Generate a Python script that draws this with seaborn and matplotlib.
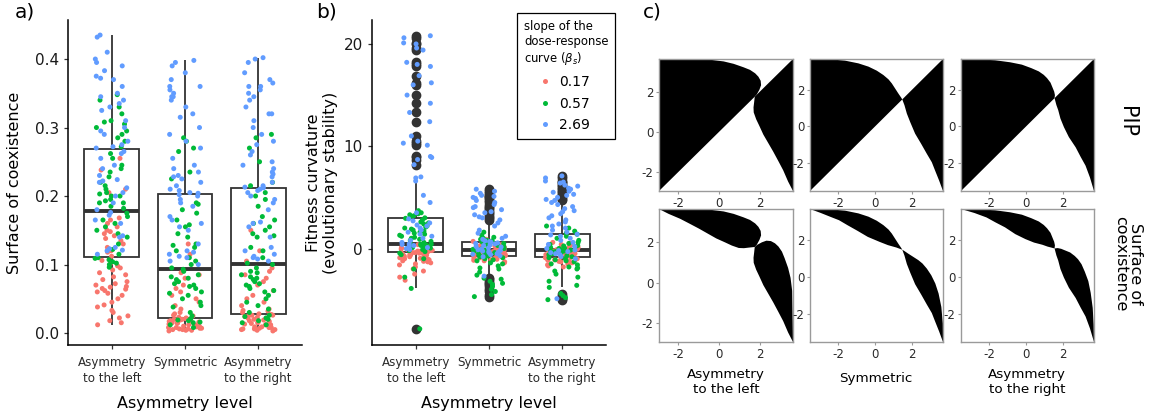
import numpy as np
import pandas as pd
import matplotlib
matplotlib.use("Agg")
import matplotlib.pyplot as plt
from matplotlib.lines import Line2D
import seaborn as sns

plt.rcParams["font.family"] = ["DejaVu Sans"]
plt.rcParams["axes.unicode_minus"] = False

# ---------------------------------------------------------------- categories
levels = ["Asymmetry\nto the left", "Symmetric", "Asymmetry\nto the right"]
slopes = ["0.17", "0.57", "2.69"]
palette = {"0.17": "#F8766D", "0.57": "#00BA38", "2.69": "#619CFF"}

# ------------------------------------------ a) surface of coexistence values
coex_left_017 = [0.012, 0.015, 0.018, 0.022, 0.025, 0.03, 0.033, 0.038, 0.041, 0.045,
                 0.05, 0.055, 0.058, 0.06, 0.062, 0.064, 0.065, 0.067, 0.068, 0.07,
                 0.072, 0.075, 0.078, 0.082, 0.085, 0.088, 0.092, 0.095, 0.098, 0.102,
                 0.106, 0.112, 0.118, 0.12, 0.125, 0.13, 0.135, 0.138, 0.142, 0.145,
                 0.148, 0.15, 0.155, 0.16, 0.165, 0.168, 0.205, 0.21, 0.238, 0.255]
coex_left_057 = [0.096, 0.1, 0.102, 0.104, 0.107, 0.109, 0.11, 0.115, 0.122, 0.13,
                 0.14, 0.145, 0.15, 0.155, 0.16, 0.165, 0.17, 0.175, 0.182, 0.185,
                 0.19, 0.19, 0.193, 0.195, 0.2, 0.2, 0.203, 0.205, 0.21, 0.215,
                 0.22, 0.228, 0.235, 0.24, 0.245, 0.255, 0.262, 0.272, 0.28, 0.285,
                 0.29, 0.295, 0.3, 0.305, 0.308, 0.31, 0.32, 0.33, 0.34, 0.348]
coex_left_269 = [0.115, 0.12, 0.121, 0.123, 0.125, 0.14, 0.142, 0.16, 0.165, 0.172,
                 0.176, 0.18, 0.19, 0.2, 0.205, 0.212, 0.22, 0.222, 0.224, 0.23,
                 0.24, 0.245, 0.255, 0.262, 0.265, 0.27, 0.272, 0.275, 0.28, 0.29,
                 0.295, 0.3, 0.31, 0.325, 0.33, 0.335, 0.34, 0.345, 0.35, 0.36,
                 0.37, 0.372, 0.375, 0.383, 0.39, 0.395, 0.4, 0.41, 0.432, 0.435]
coex_sym_017 = [0.003, 0.004, 0.004, 0.005, 0.005, 0.006, 0.006, 0.007, 0.007, 0.008,
                0.008, 0.009, 0.01, 0.01, 0.011, 0.011, 0.012, 0.012, 0.013, 0.014,
                0.015, 0.015, 0.016, 0.017, 0.018, 0.018, 0.019, 0.02, 0.02, 0.021,
                0.022, 0.023, 0.025, 0.026, 0.028, 0.03, 0.035, 0.04, 0.045, 0.05,
                0.055, 0.06, 0.065, 0.07, 0.075, 0.08, 0.085, 0.088, 0.115, 0.13]
coex_sym_057 = [0.008, 0.012, 0.015, 0.016, 0.018, 0.019, 0.021, 0.025, 0.03, 0.038,
                0.04, 0.045, 0.05, 0.055, 0.058, 0.06, 0.065, 0.068, 0.07, 0.072,
                0.075, 0.078, 0.08, 0.082, 0.085, 0.09, 0.093, 0.095, 0.1, 0.105,
                0.11, 0.12, 0.125, 0.128, 0.13, 0.14, 0.145, 0.155, 0.158, 0.165,
                0.175, 0.18, 0.188, 0.19, 0.225, 0.235, 0.265, 0.27, 0.28, 0.285]
coex_sym_269 = [0.1, 0.105, 0.11, 0.112, 0.115, 0.118, 0.12, 0.13, 0.15, 0.155,
                0.16, 0.165, 0.17, 0.185, 0.19, 0.195, 0.2, 0.202, 0.204, 0.205,
                0.208, 0.21, 0.215, 0.22, 0.225, 0.228, 0.23, 0.235, 0.24, 0.245,
                0.255, 0.27, 0.28, 0.29, 0.3, 0.315, 0.32, 0.33, 0.34, 0.345,
                0.345, 0.35, 0.355, 0.36, 0.36, 0.37, 0.38, 0.39, 0.395, 0.398]
coex_right_017 = [0.003, 0.004, 0.005, 0.005, 0.006, 0.006, 0.007, 0.008, 0.008, 0.009,
                  0.009, 0.01, 0.011, 0.012, 0.012, 0.013, 0.014, 0.015, 0.016, 0.017,
                  0.018, 0.019, 0.02, 0.021, 0.022, 0.023, 0.024, 0.025, 0.026, 0.026,
                  0.027, 0.028, 0.03, 0.032, 0.033, 0.035, 0.04, 0.045, 0.05, 0.055,
                  0.062, 0.07, 0.075, 0.08, 0.085, 0.09, 0.095, 0.105, 0.12, 0.15]
coex_right_057 = [0.012, 0.015, 0.018, 0.02, 0.022, 0.024, 0.026, 0.03, 0.035, 0.04,
                  0.045, 0.05, 0.055, 0.06, 0.062, 0.065, 0.068, 0.07, 0.072, 0.075,
                  0.078, 0.08, 0.082, 0.085, 0.088, 0.09, 0.095, 0.1, 0.102, 0.11,
                  0.12, 0.125, 0.14, 0.142, 0.145, 0.15, 0.155, 0.16, 0.165, 0.17,
                  0.185, 0.195, 0.2, 0.205, 0.215, 0.22, 0.25, 0.27, 0.285, 0.29]
coex_right_269 = [0.105, 0.108, 0.11, 0.112, 0.115, 0.12, 0.125, 0.14, 0.155, 0.16,
                  0.162, 0.18, 0.19, 0.195, 0.2, 0.205, 0.208, 0.21, 0.212, 0.213,
                  0.215, 0.22, 0.228, 0.232, 0.235, 0.24, 0.245, 0.25, 0.26, 0.265,
                  0.275, 0.28, 0.29, 0.3, 0.31, 0.32, 0.32, 0.33, 0.34, 0.345,
                  0.35, 0.355, 0.36, 0.36, 0.365, 0.37, 0.38, 0.395, 0.4, 0.402]

# ------------------------------------------------ b) fitness curvature values
curv_left_017 = [-3.1, -2.8, -2.5, -2.2, -2.0, -1.8, -1.6, -1.5, -1.4, -1.3,
                 -1.25, -1.2, -1.1, -1.05, -1.0, -0.95, -0.9, -0.85, -0.8, -0.75,
                 -0.7, -0.65, -0.62, -0.6, -0.55, -0.5, -0.5, -0.45, -0.42, -0.4,
                 -0.39, -0.35, -0.3, -0.28, -0.25, -0.2, -0.18, -0.15, -0.1, -0.08,
                 -0.05, 0.0, 0.02, 0.05, 0.1, 0.12, 0.18, 0.22, 0.3, 0.38]
curv_left_057 = [-7.85, -3.9, -2.8, -2.0, -1.0, -0.6, -0.45, -0.3, -0.2, -0.1,
                 0.0, 0.05, 0.1, 0.15, 0.2, 0.25, 0.3, 0.35, 0.41, 0.43,
                 0.5, 0.6, 0.7, 0.8, 0.9, 1.0, 1.1, 1.2, 1.3, 1.4,
                 1.5, 1.6, 1.7, 1.8, 1.9, 2.0, 2.1, 2.2, 2.4, 2.5,
                 2.6, 2.8, 2.95, 3.0, 3.1, 3.2, 3.3, 3.4, 3.5, 3.7]
curv_left_269 = [-0.1, 0.0, 0.1, 0.2, 0.3, 0.4, 0.45, 0.6, 0.8, 1.0,
                 1.2, 1.4, 1.6, 1.8, 2.0, 2.2, 2.3, 2.5, 2.7, 2.9,
                 3.5, 4.5, 5.2, 6.6, 6.9, 7.0, 8.2, 8.7, 8.9, 9.0,
                 10.1, 10.3, 10.5, 11.0, 12.4, 13.3, 14.2, 15.0, 16.0, 16.2,
                 16.9, 17.8, 18.0, 18.2, 19.4, 19.6, 20.0, 20.1, 20.6, 20.8]
curv_sym_017 = [-1.4, -1.3, -1.2, -1.15, -1.1, -1.05, -1.0, -0.95, -0.9, -0.85,
                -0.8, -0.75, -0.7, -0.65, -0.6, -0.55, -0.5, -0.48, -0.45, -0.4,
                -0.38, -0.35, -0.3, -0.28, -0.25, -0.2, -0.18, -0.15, -0.12, -0.11,
                -0.09, -0.05, -0.02, 0.0, 0.02, 0.05, 0.08, 0.1, 0.12, 0.15,
                0.18, 0.2, 0.25, 0.3, 0.35, 0.4, 0.5, 0.6, 0.7, 0.9]
curv_sym_057 = [-4.7, -4.5, -4.2, -4.0, -3.7, -3.5, -3.4, -3.2, -3.0, -2.9,
                -2.6, -2.3, -2.0, -1.9, -1.7, -1.5, -1.4, -1.2, -1.1, -1.0,
                -0.9, -0.8, -0.75, -0.72, -0.6, -0.5, -0.45, -0.4, -0.3, -0.25,
                -0.2, -0.15, -0.1, -0.08, -0.05, 0.0, 0.1, 0.2, 0.3, 0.4,
                0.5, 0.62, 0.7, 0.75, 0.8, 0.9, 1.0, 1.1, 1.3, 1.6]
curv_sym_269 = [-2.7, -0.8, -0.7, -0.6, -0.55, -0.5, -0.4, -0.35, -0.3, -0.25,
                -0.2, -0.12, -0.06, 0.05, 0.15, 0.2, 0.3, 0.35, 0.45, 0.5,
                0.55, 0.63, 0.68, 0.75, 0.9, 1.0, 1.2, 1.5, 1.8, 2.2,
                2.5, 2.8, 3.0, 3.1, 3.3, 3.5, 3.6, 3.8, 4.0, 4.1,
                4.3, 4.5, 4.7, 4.9, 5.0, 5.1, 5.2, 5.4, 5.6, 5.8]
curv_right_017 = [-1.8, -1.7, -1.6, -1.5, -1.4, -1.3, -1.25, -1.2, -1.15, -1.1,
                  -1.05, -1.0, -0.95, -0.9, -0.85, -0.82, -0.8, -0.75, -0.7, -0.65,
                  -0.62, -0.6, -0.55, -0.5, -0.48, -0.45, -0.42, -0.4, -0.38, -0.35,
                  -0.32, -0.3, -0.28, -0.25, -0.22, -0.2, -0.18, -0.16, -0.12, -0.1,
                  -0.05, 0.0, 0.05, 0.1, 0.15, 0.2, 0.3, 0.4, 0.5, 0.6]
curv_right_057 = [-5.0, -4.8, -4.6, -4.4, -3.8, -3.6, -3.2, -2.8, -2.5, -2.2,
                  -2.0, -1.9, -1.8, -1.6, -1.5, -1.3, -1.2, -1.1, -1.0, -0.9,
                  -0.8, -0.7, -0.6, -0.5, -0.45, -0.4, -0.35, -0.3, -0.25, -0.2,
                  -0.15, -0.1, 0.0, 0.05, 0.1, 0.15, 0.2, 0.25, 0.3, 0.4,
                  0.5, 0.6, 0.8, 1.0, 1.2, 1.4, 1.5, 1.7, 2.0, 2.2]
curv_right_269 = [-4.9, -1.0, -0.78, -0.6, -0.5, -0.4, -0.3, -0.2, -0.14, 0.0,
                  0.2, 0.4, 0.6, 0.8, 1.0, 1.2, 1.33, 1.4, 1.6, 1.8,
                  2.0, 2.2, 2.4, 2.6, 2.8, 3.0, 3.2, 3.4, 3.6, 3.7,
                  3.9, 4.1, 4.3, 4.5, 4.7, 4.8, 5.0, 5.2, 5.3, 5.5,
                  5.6, 5.8, 5.9, 6.1, 6.2, 6.4, 6.5, 6.6, 6.9, 7.1]

# ------------------------- c) invasion boundaries (resident x, mutant y)
pip_left_lim = (-2.92, 3.63)
pip_left_upper_x = [-2.92, -0.40, 0.24, 0.73, 1.21, 1.53, 1.78, 1.94, 2.05, 2.07, 1.99, 1.86, 1.76]
pip_left_upper_y = [3.63, 3.59, 3.51, 3.39, 3.22, 3.09, 2.92, 2.75, 2.55, 2.33, 2.11, 1.87, 1.76]
pip_left_lower_x = [1.76, 1.73, 1.70, 1.71, 1.83, 1.99, 2.18, 2.42, 2.66, 2.91, 3.15, 3.39, 3.63]
pip_left_lower_y = [1.76, 1.48, 1.23, 0.98, 0.64, 0.30, -0.12, -0.54, -0.96, -1.43, -1.89, -2.45, -2.92]

pip_sym_lim = (-3.55, 3.70)
pip_sym_upper_x = [-3.55, -2.55, -1.64, -0.91, -0.36, 0.09, 0.45, 0.73, 0.91, 1.09, 1.27, 1.42, 1.48]
pip_sym_upper_y = [3.70, 3.69, 3.61, 3.46, 3.28, 3.06, 2.82, 2.58, 2.36, 2.08, 1.80, 1.58, 1.48]
pip_sym_lower_x = [1.48, 1.60, 1.73, 1.91, 2.18, 2.51, 2.82, 3.09, 3.27, 3.49, 3.70]
pip_sym_lower_y = [1.48, 1.16, 0.70, 0.24, -0.40, -0.96, -1.51, -1.97, -2.43, -2.98, -3.55]

pip_right_lim = (-3.55, 3.70)
pip_right_upper_x = [-3.55, -2.60, -1.69, -0.87, -0.23, 0.28, 0.69, 0.96, 1.14, 1.33, 1.42, 1.53, 1.57, 1.55]
pip_right_upper_y = [3.70, 3.68, 3.63, 3.52, 3.39, 3.20, 3.02, 2.83, 2.65, 2.40, 2.18, 1.91, 1.72, 1.55]
pip_right_lower_x = [1.55, 1.65, 1.75, 1.87, 2.06, 2.33, 2.70, 2.97, 3.24, 3.48, 3.70]
pip_right_lower_y = [1.55, 1.17, 0.89, 0.43, -0.04, -0.59, -1.15, -1.67, -2.16, -2.81, -3.55]


def long_table(blocks):
    rows = []
    for level, slope, values in blocks:
        rows += [(level, slope, v) for v in values]
    return pd.DataFrame(rows, columns=["level", "slope", "value"])


coex = long_table([
    (levels[0], "0.17", coex_left_017), (levels[0], "0.57", coex_left_057), (levels[0], "2.69", coex_left_269),
    (levels[1], "0.17", coex_sym_017), (levels[1], "0.57", coex_sym_057), (levels[1], "2.69", coex_sym_269),
    (levels[2], "0.17", coex_right_017), (levels[2], "0.57", coex_right_057), (levels[2], "2.69", coex_right_269),
])
curv = long_table([
    (levels[0], "0.17", curv_left_017), (levels[0], "0.57", curv_left_057), (levels[0], "2.69", curv_left_269),
    (levels[1], "0.17", curv_sym_017), (levels[1], "0.57", curv_sym_057), (levels[1], "2.69", curv_sym_269),
    (levels[2], "0.17", curv_right_017), (levels[2], "0.57", curv_right_057), (levels[2], "2.69", curv_right_269),
])

W, H = 1149, 419
fig = plt.figure(figsize=(W / 100, H / 100), dpi=100)
fig.patch.set_facecolor("white")


def px_axes(x0, y0, x1, y1):
    return fig.add_axes([x0 / W, 1 - y1 / H, (x1 - x0) / W, (y1 - y0) / H])


DARK = "#333333"


def box_and_jitter(ax, df, seed):
    sns.boxplot(data=df, x="level", y="value", order=levels, color="white",
                linecolor=DARK, linewidth=1.3, width=0.75, showcaps=False,
                saturation=1, fliersize=6,
                flierprops=dict(marker="o", markerfacecolor=DARK, markeredgecolor=DARK),
                medianprops=dict(linewidth=2.8, color=DARK), ax=ax)
    np.random.seed(seed)
    sns.stripplot(data=df, x="level", y="value", hue="slope", order=levels,
                  hue_order=slopes, palette=palette, jitter=0.23, size=3.6,
                  linewidth=0, legend=False, zorder=3, ax=ax)
    ax.set_xlim(-0.6, 2.6)
    for side in ["top", "right"]:
        ax.spines[side].set_visible(False)
    for side in ["left", "bottom"]:
        ax.spines[side].set_linewidth(1.1)
        ax.spines[side].set_color("black")
    ax.tick_params(axis="both", length=3, width=0.9, color=DARK)
    ax.tick_params(axis="y", labelsize=11, labelcolor="#1a1a1a", pad=3.5)
    ax.tick_params(axis="x", labelsize=8.6, labelcolor="#2a2a2a", pad=5)
    ax.set_xticks(range(3))
    ax.set_xticklabels(levels)
    for t in ax.get_xticklabels():
        t.set_linespacing(1.3)
    ax.set_xlabel("Asymmetry level", fontsize=11.5, labelpad=8)
    ax.set_facecolor("white")


# ---------------------------------------------------------------- panel a
ax_a = px_axes(68, 20, 302, 345)
box_and_jitter(ax_a, coex, 7)
ax_a.set_ylim(-0.0175, 0.457)
ax_a.set_yticks([0.0, 0.1, 0.2, 0.3, 0.4])
ax_a.set_yticklabels(["0.0", "0.1", "0.2", "0.3", "0.4"])
ax_a.set_ylabel("Surface of coexistence", fontsize=11.5, labelpad=9)

# ---------------------------------------------------------------- panel b
ax_b = px_axes(372, 20, 606, 345)
box_and_jitter(ax_b, curv, 11)
ax_b.set_ylim(-9.43, 22.34)
ax_b.set_yticks([0, 10, 20])
ax_b.set_ylabel("Fitness curvature\n(evolutionary stability)", fontsize=11.5, labelpad=4)

handles = [Line2D([], [], marker="o", linestyle="", markersize=3.6,
                  markerfacecolor=palette[s], markeredgewidth=0) for s in slopes]
leg = ax_b.legend(handles, slopes, title="slope of the\ndose-response\ncurve ($\\beta_s$)",
                  loc="upper left", bbox_to_anchor=(517 / W, 1 - 13 / H),
                  bbox_transform=fig.transFigure, frameon=True, fancybox=False,
                  edgecolor="black", framealpha=1, fontsize=10, title_fontsize=8.4,
                  alignment="left", handlelength=3.0, handletextpad=-0.5,
                  borderpad=0.5, labelspacing=0.55, borderaxespad=0)
leg.get_frame().set_linewidth(0.9)

# ---------------------------------------------------------------- panel c
GREY = "#9a9a9a"


def draw_pip(ax, ux, uy, lx, ly, lim, coexistence):
    lo, hi = lim
    if not coexistence:
        ax.fill([lo] + ux[::-1], [lo] + uy[::-1], color="black", lw=0)
        ax.fill([lx[0], hi] + lx[::-1], [ly[0], hi] + ly[::-1], color="black", lw=0)
    else:
        # mutual invasibility: the region and its mirror image across the diagonal
        ax.fill(ux + ly, uy + lx, color="black", lw=0)
        ax.fill(lx + uy, ly + ux, color="black", lw=0)
    ax.set_xlim(lo, hi)
    ax.set_ylim(lo, hi)
    ax.set_xticks([-2, 0, 2])
    ax.set_yticks([-2, 0, 2])
    for s in ax.spines.values():
        s.set_color(GREY)
        s.set_linewidth(1.0)
    ax.tick_params(length=2.5, width=0.8, color=GREY, labelsize=8.5,
                   labelcolor="#2a2a2a", pad=1.5)
    ax.set_facecolor("white")


cases = [
    (pip_left_upper_x, pip_left_upper_y, pip_left_lower_x, pip_left_lower_y, pip_left_lim),
    (pip_sym_upper_x, pip_sym_upper_y, pip_sym_lower_x, pip_sym_lower_y, pip_sym_lim),
    (pip_right_upper_x, pip_right_upper_y, pip_right_lower_x, pip_right_lower_y, pip_right_lim),
]
col_px = [(659, 793), (810, 943), (961, 1094)]
row_px = [(59, 191, False), (209, 342, True)]
for (x0, x1), case in zip(col_px, cases):
    for y0, y1, coexistence in row_px:
        ax = px_axes(x0, y0, x1, y1)
        draw_pip(ax, *case, coexistence)

fig.text(726 / W, 1 - 382 / H, "Asymmetry\nto the left", ha="center", va="center",
         fontsize=9.7, linespacing=1.25)
fig.text(876 / W, 1 - 378 / H, "Symmetric", ha="center", va="center", fontsize=9.7)
fig.text(1027 / W, 1 - 382 / H, "Asymmetry\nto the right", ha="center", va="center",
         fontsize=9.7, linespacing=1.25)
fig.text(1127 / W, 1 - 121 / H, "PIP", rotation=-90, ha="center", va="center", fontsize=15)
fig.text(1128 / W, 1 - 264 / H, "Surface of\ncoexistence", rotation=-90, ha="center",
         va="center", fontsize=11.5, linespacing=1.0)

# panel tags
fig.text(15 / W, 1 - 3 / H, "a)", fontsize=14.5, va="top", ha="left")
fig.text(316 / W, 1 - 3 / H, "b)", fontsize=14.5, va="top", ha="left")
fig.text(643 / W, 1 - 3 / H, "c)", fontsize=14.5, va="top", ha="left")

fig.savefig("out.png", dpi=100, facecolor="white")
